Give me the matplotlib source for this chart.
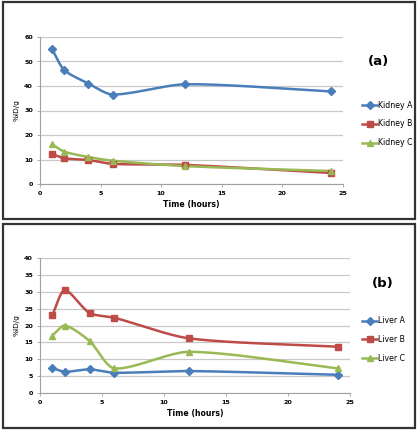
import numpy as np
import matplotlib
matplotlib.use("Agg")
import matplotlib.pyplot as plt
from matplotlib.patches import Rectangle
from matplotlib.lines import Line2D

# ---------------- data ----------------
time_h = [1, 2, 4, 6, 12, 24]

kidney_a = [55.0, 46.5, 41.0, 36.5, 40.7, 37.8]
kidney_b = [12.3, 10.5, 9.8, 8.2, 7.8, 4.5]
kidney_c = [16.2, 13.2, 11.0, 9.5, 7.3, 5.3]

liver_a = [7.4, 6.3, 7.0, 6.0, 6.5, 5.4]
liver_b = [23.1, 30.5, 23.7, 22.3, 16.2, 13.7]
liver_c = [17.0, 20.0, 15.4, 7.3, 12.2, 7.3]

kidney_labels = ["Kidney A", "Kidney B", "Kidney C"]
liver_labels = ["Liver A", "Liver B", "Liver C"]
panel_tags = ["(a)", "(b)"]
x_ticks = [0, 5, 10, 15, 20, 25]
ya_ticks = [0, 10, 20, 30, 40, 50, 60]
yb_ticks = [0, 5, 10, 15, 20, 25, 30, 35, 40]
x_label = "Time (hours)"
y_label = "%ID/g"

# ---------------- style ----------------
COLORS = ["#4A7EBB", "#BE4B48", "#98B954"]
MARKERS = ["D", "s", "^"]
MSIZES = [4.0, 5.0, 5.0]
W, H = 420, 433
TENSION = 0.26


def smooth(ax, xs, ys, n=40):
    """Smoothed curve through the points, computed in screen space."""
    pts = ax.transData.transform(np.column_stack([xs, ys]).astype(float))
    out = [pts[0]]
    m = len(pts)
    for i in range(m - 1):
        p0 = pts[i - 1] if i > 0 else pts[i]
        p1 = pts[i]
        p2 = pts[i + 1]
        p3 = pts[i + 2] if i + 2 < m else pts[i + 1]
        d01 = np.hypot(*(p1 - p0))
        d12 = np.hypot(*(p2 - p1))
        d23 = np.hypot(*(p3 - p2))
        c1 = p1 + (p2 - p0) * d12 * TENSION / (d01 + d12)
        c2 = p2 - (p3 - p1) * d12 * TENSION / (d12 + d23)
        t = np.linspace(0, 1, n)[1:, None]
        seg = ((1 - t) ** 3) * p1 + 3 * ((1 - t) ** 2) * t * c1 + 3 * (1 - t) * t ** 2 * c2 + t ** 3 * p2
        out.extend(seg)
    out = ax.transData.inverted().transform(np.array(out))
    return out[:, 0], out[:, 1]


def px_axes(fig, left, top, right, bottom):
    return fig.add_axes([left / W, 1 - bottom / H, (right - left) / W, (bottom - top) / H])


fig = plt.figure(figsize=(W / 100, H / 100), dpi=100)
fig.patch.set_facecolor("white")

# panel borders
for (x0, y0, x1, y1) in [(3, 2, 415, 219), (3, 224, 415, 428)]:
    fig.patches.append(Rectangle((x0 / W, 1 - y1 / H), (x1 - x0) / W, (y1 - y0) / H,
                                 transform=fig.transFigure, fill=False,
                                 edgecolor="#333333", linewidth=1.6))

panels = [
    dict(box=(40, 37, 343, 184), series=[kidney_a, kidney_b, kidney_c], labels=kidney_labels,
         yticks=ya_ticks, tag=panel_tags[0], tagpos=(368, 61), legy=[108, 124, 140]),
    dict(box=(40, 258, 350, 393), series=[liver_a, liver_b, liver_c], labels=liver_labels,
         yticks=yb_ticks, tag=panel_tags[1], tagpos=(372, 284), legy=[323, 339, 356]),
]

for pan in panels:
    ax = px_axes(fig, *pan["box"])
    ax.set_xlim(0, 25)
    ax.set_ylim(pan["yticks"][0], pan["yticks"][-1])
    for vals, col, mk, ms in zip(pan["series"], COLORS, MARKERS, MSIZES):
        sx, sy = smooth(ax, time_h, vals)
        ax.plot(sx, sy, color=col, linewidth=1.8, solid_capstyle="round",
                solid_joinstyle="round", zorder=3)
        ax.plot(time_h, vals, linestyle="none", marker=mk, markersize=ms,
                color=col, markeredgecolor=col, zorder=4)
    ax.set_xticks(x_ticks)
    ax.set_yticks(pan["yticks"])
    ax.grid(axis="y", color="#C8C8C8", linewidth=0.9)
    ax.set_axisbelow(True)
    for s in ["top", "right"]:
        ax.spines[s].set_visible(False)
    for s in ["left", "bottom"]:
        ax.spines[s].set_color("#A0A0A0")
        ax.spines[s].set_linewidth(0.8)
    ax.tick_params(axis="both", length=2, width=0.6, color="#A0A0A0",
                   labelsize=4.6, pad=3)
    for lab in ax.get_xticklabels() + ax.get_yticklabels():
        lab.set_fontweight("bold")
    ax.set_xlabel(x_label, fontsize=5.6, fontweight="bold", labelpad=3)
    ax.set_ylabel(y_label, fontsize=5.3, labelpad=3)

    # panel tag
    fig.text(pan["tagpos"][0] / W, 1 - pan["tagpos"][1] / H, pan["tag"],
             fontsize=9.5, fontweight="bold", ha="left", va="center")

    # legend
    handles = [Line2D([0], [0], color=c, marker=m, markersize=ms, linewidth=1.8)
               for c, m, ms in zip(COLORS, MARKERS, MSIZES)]
    fig.legend(handles, pan["labels"], loc="center left",
               bbox_to_anchor=(358 / W, 1 - (pan["legy"][0] + pan["legy"][2]) / 2 / H),
               frameon=False, fontsize=5.6, handlelength=2.0, handletextpad=0.05,
               labelspacing=1.25, borderpad=0, markerscale=0.9)

fig.savefig("out.png", dpi=100, facecolor="white")
